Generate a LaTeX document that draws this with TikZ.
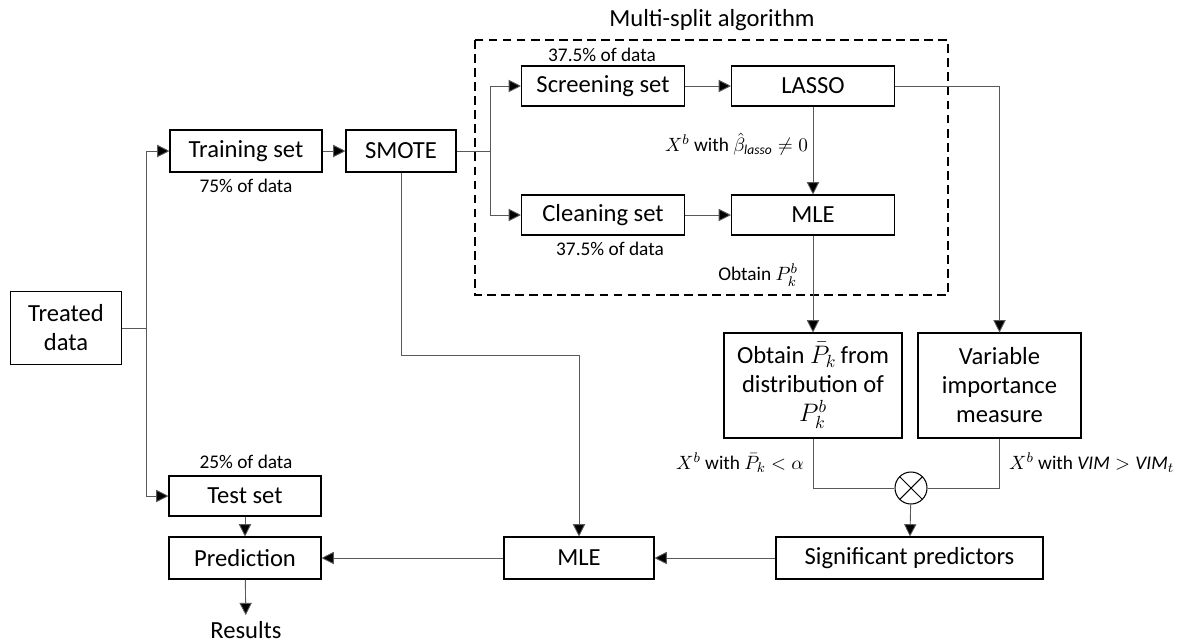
\documentclass[tikz,border=0pt]{standalone}
\usepackage{amsmath, amssymb}
\usepackage{fontspec}
\setmainfont{Carlito}
\usepackage{tikz}
\usetikzlibrary{arrows.meta, positioning}

\tikzset{
  blk/.style={draw, line width=0.6pt, align=center, inner sep=2pt, font=\fontsize{14}{16.5}\selectfont},
  conn/.style={draw=black!65, line width=0.5pt},
  arr/.style={conn, -{Triangle[length=7pt, width=7pt, fill=black]}},
  note/.style={font=\fontsize{11}{13}\selectfont, inner sep=1pt}
}

\begin{document}
\begin{tikzpicture}[x=0.02cm, y=-0.02cm]
    \useasboundingbox (0,0) rectangle (1189,643);
    % Boxes
    \node[blk, minimum width=111*0.02cm, minimum height=73*0.02cm] (treated) at (66,328) {Treated\\data};
    \node[blk, minimum width=152*0.02cm, minimum height=42*0.02cm] (train) at (246,151) {Training set};
    \node[blk, minimum width=110*0.02cm, minimum height=42*0.02cm] (smote) at (401,151) {SMOTE};
    \node[blk, minimum width=163*0.02cm, minimum height=40*0.02cm] (screen) at (603,86) {Screening set};
    \node[blk, minimum width=163*0.02cm, minimum height=40*0.02cm] (lasso) at (813,86) {LASSO};
    \node[blk, minimum width=163*0.02cm, minimum height=40*0.02cm] (clean) at (603,215) {Cleaning set};
    \node[blk, minimum width=163*0.02cm, minimum height=40*0.02cm] (mleA) at (813,215) {MLE};
    \node[blk, minimum width=178*0.02cm, minimum height=105*0.02cm] (obtain) at (813,385.5)
      {Obtain $\bar{P}_k$\,from\\distribution of\\$P_k^b$};
    \node[blk, minimum width=163*0.02cm, minimum height=105*0.02cm] (vim) at (999.5,385.5)
      {Variable\\importance\\measure};
    \node[draw, line width=0.6pt, circle, minimum size=32*0.02cm, inner sep=0pt,
      path picture={\draw[line width=0.6pt] (path picture bounding box.north west) -- (path picture bounding box.south east)
        (path picture bounding box.north east) -- (path picture bounding box.south west);}]
      (otimes) at (911,488) {};
    \node[blk, minimum width=267*0.02cm, minimum height=42*0.02cm] (sig) at (909.5,558) {Significant predictors};
    \node[blk, minimum width=150*0.02cm, minimum height=42*0.02cm] (mleB) at (579,558) {MLE};
    \node[blk, minimum width=152*0.02cm, minimum height=42*0.02cm] (pred) at (245,558) {Prediction};
    \node[blk, minimum width=152*0.02cm, minimum height=40*0.02cm] (test) at (245,496) {Test set};
    \node[font=\fontsize{14}{16.5}\selectfont] (results) at (246,630) {Results};

    % Multi-split frame
    \draw[dashed, line width=0.9pt, dash pattern=on 5pt off 3pt] (475,40) rectangle (948,295);
    \node[font=\fontsize{14}{16.5}\selectfont] (title) at (712,20) {Multi-split algorithm};

    % Labels
    \node[note] (pc75) at (246,186) {75\% of data};
    \node[note] (pcscr) at (602,55) {37.5\% of data};
    \node[note] (pccln) at (610,249) {37.5\% of data};
    \node[note] (pc25) at (246,462) {25\% of data};
    \node[note, anchor=east] (lsel) at (810,144) {$X^b$ with $\hat{\beta}_{\mathit{lasso}} \neq 0$};
    \node[note, anchor=east] (pkb) at (800,275) {Obtain $P_k^b$};
    \node[note, anchor=east] (lpk) at (806,463) {$X^b$ with $\bar{P}_k < \alpha$};
    \node[note, anchor=west] (lvim) at (1007,463) {$X^b$ with $\mathit{VIM} > \mathit{VIM}_t$};

    % Split points
    \coordinate (split1) at (146,328);
    \coordinate (split2) at (490,151);
    \coordinate (drop) at (401,355);

    % Connectors
    \draw[conn] (treated) -- (split1);
    \foreach \t in {train, test} {
      \draw[arr] (split1) |- (\t);
    }
    \draw[arr] (train) -- (smote);
    \draw[conn] (smote) -- (split2);
    \foreach \t in {screen, clean} {
      \draw[arr] (split2) |- (\t);
    }
    \draw[arr] (screen) -- (lasso);
    \draw[arr] (clean) -- (mleA);
    \draw[arr] (lasso) -- (mleA);
    \draw[arr] (lasso.east) -| (vim.north);
    \draw[arr] (mleA) -- (obtain);
    \draw[arr] (smote) -- (drop) -| (mleB);
    \draw[conn] (obtain) |- (otimes);
    \draw[conn] (vim) |- (otimes);
    \draw[arr] (otimes) -- (sig);
    \draw[arr] (sig) -- (mleB);
    \draw[arr] (mleB) -- (pred);
    \draw[arr] (test) -- (pred);
    \draw[arr] (pred) -- (results);
\end{tikzpicture}
\end{document}
